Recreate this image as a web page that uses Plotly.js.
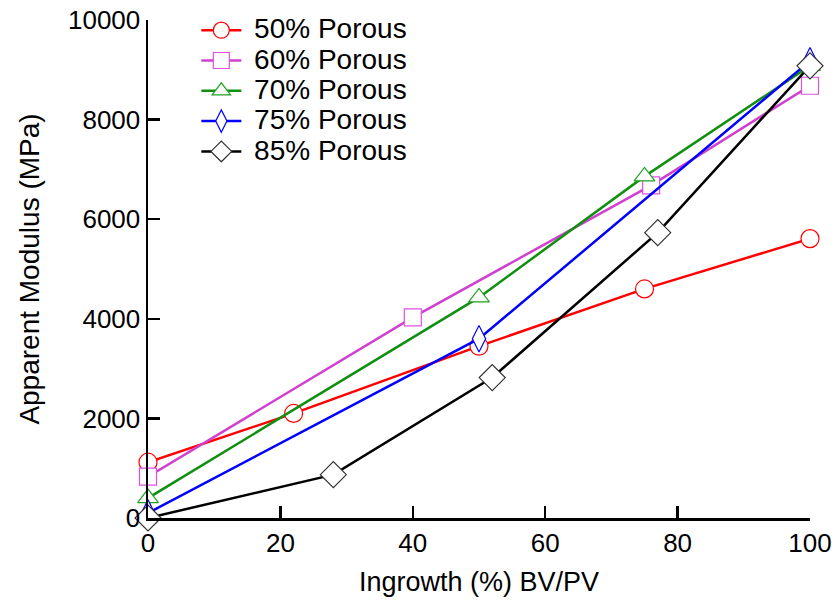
<!DOCTYPE html>
<html><head><meta charset="utf-8">
<script src="https://cdn.plot.ly/plotly-3.0.1.min.js"></script>
<style>html,body{margin:0;padding:0;background:#fff}#chart{width:835px;height:602px}</style>
</head><body><div id="chart"></div>
<script>
const names = ["50% Porous","60% Porous","70% Porous","75% Porous","85% Porous"];
const x50 = [0, 22, 50, 75, 100];
const y50 = [1120, 2100, 3450, 4600, 5610];
const x60 = [0, 40, 76, 100];
const y60 = [830, 4030, 6680, 8680];
const x70 = [0, 50, 75, 100];
const y70 = [400, 4430, 6860, 9080];
const x75 = [0, 50, 100];
const y75 = [100, 3600, 9180];
const x85 = [0, 28, 52, 77, 100];
const y85 = [0, 870, 2820, 5730, 9080];
const xTicks = [0, 20, 40, 60, 80, 100];
const yTicks = [0, 2000, 4000, 6000, 8000, 10000];

const colors = ["#FF0000", "#D040D0", "#109010", "#0000FF", "#000000"];
const edge = ["#FF0000", "#E050E0", "#20A020", "#0000FF", "#333333"];
const symbols = ["circle", "square", "triangle-up", "diamond-tall", "diamond"];
const sizes = [18, 17, 18, 19, 20];
const xs = [x50, x60, x70, x75, x85];
const ys = [y50, y60, y70, y75, y85];

const traces = names.map((n, i) => ({
  x: xs[i], y: ys[i], name: '<span style="font-size:28px"> ' + n + '</span>', type: "scatter", mode: "lines+markers",
  cliponaxis: false,
  line: {color: colors[i], width: 2.5},
  marker: {symbol: symbols[i], size: sizes[i], color: "#FFFFFF", line: {color: edge[i], width: 1.2}}
}));

const font = {family: "Liberation Sans, Arial, sans-serif", color: "#000"};
const layout = {
  width: 835, height: 602,
  margin: {l: 148, r: 25, t: 20, b: 84, autoexpand: false},
  paper_bgcolor: "#fff", plot_bgcolor: "#fff",
  showlegend: true,
  legend: {x: 0.073, y: 1.02, xanchor: "left", yanchor: "top", bgcolor: "rgba(0,0,0,0)",
           font: Object.assign({size: 21}, font), tracegroupgap: 0, itemwidth: 40},
  xaxis: {range: [0, 100], tickvals: xTicks, ticktext: xTicks.map(String), automargin: false,
          showgrid: false, zeroline: false, showline: true, linecolor: "#000", linewidth: 2.5,
          ticks: "inside", ticklen: 12, tickwidth: 2.5, tickcolor: "#000",
          tickfont: Object.assign({size: 26}, font),
          title: {text: "Ingrowth (%) BV/PV", font: Object.assign({size: 27}, font), standoff: 16}},
  yaxis: {range: [0, 10000], tickvals: yTicks, ticktext: yTicks.map(String), automargin: false,
          showgrid: false, zeroline: false, showline: true, linecolor: "#000", linewidth: 2.5,
          ticks: "inside", ticklen: 12, tickwidth: 2.5, tickcolor: "#000",
          tickfont: Object.assign({size: 26}, font),
          title: {text: "Apparent Modulus (MPa)", font: Object.assign({size: 28}, font), standoff: 20}}
};
Plotly.newPlot("chart", traces, layout, {displayModeBar: false, staticPlot: true});
</script></body></html>
